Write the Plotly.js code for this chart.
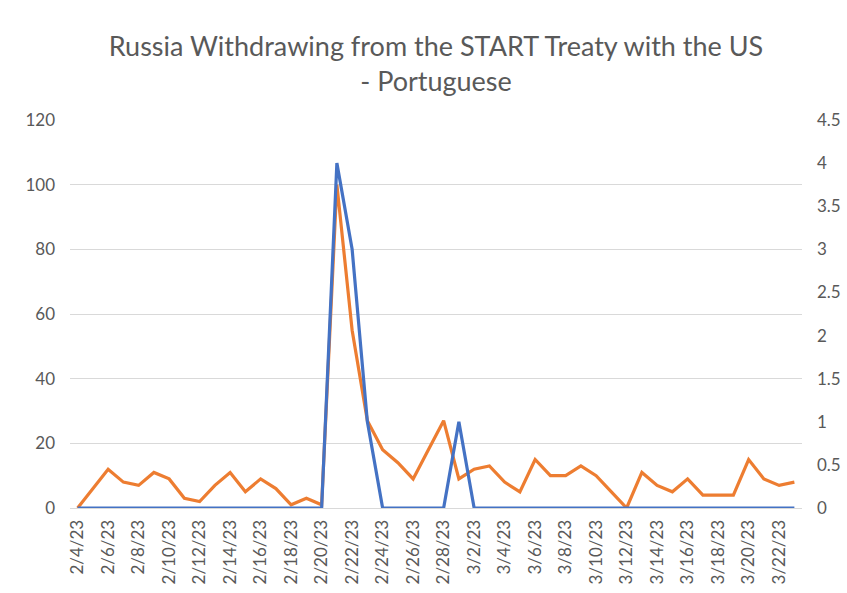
<!DOCTYPE html>
<html>
<head>
<meta charset="utf-8">
<script src="https://cdn.plot.ly/plotly-3.0.1.min.js"></script>
<style>html,body{margin:0;padding:0;background:#fff;}#chart{width:847px;height:593px;}</style>
</head>
<body>
<div id="chart"></div>
<script>
const dates = ["2/4/23","2/5/23","2/6/23","2/7/23","2/8/23","2/9/23","2/10/23","2/11/23","2/12/23","2/13/23",
  "2/14/23","2/15/23","2/16/23","2/17/23","2/18/23","2/19/23","2/20/23","2/21/23","2/22/23","2/23/23",
  "2/24/23","2/25/23","2/26/23","2/27/23","2/28/23","3/1/23","3/2/23","3/3/23","3/4/23","3/5/23",
  "3/6/23","3/7/23","3/8/23","3/9/23","3/10/23","3/11/23","3/12/23","3/13/23","3/14/23","3/15/23",
  "3/16/23","3/17/23","3/18/23","3/19/23","3/20/23","3/21/23","3/22/23","3/23/23"];
const orangeLeft = [0,6,12,8,7,11,9,3,2,7,
  11,5,9,6,1,3,1,100,55,27,
  18,14,9,18,27,9,12,13,8,5,
  15,10,10,13,10,5,0,11,7,5,
  9,4,4,4,15,9,7,8];
const blueRight = [0,0,0,0,0,0,0,0,0,0,
  0,0,0,0,0,0,0,4,3,1,
  0,0,0,0,0,1,0,0,0,0,
  0,0,0,0,0,0,0,0,0,0,
  0,0,0,0,0,0,0,0];
const tickDates = dates.filter((d, i) => i % 2 === 0);

const traces = [
  {x: dates, y: orangeLeft, type: 'scatter', mode: 'lines', yaxis: 'y',
   line: {color: '#ED7D31', width: 3.2}, name: 'Orange', hoverinfo: 'x+y'},
  {x: dates, y: blueRight, type: 'scatter', mode: 'lines', yaxis: 'y2',
   line: {color: '#4472C4', width: 3.2}, name: 'Blue', hoverinfo: 'x+y'}
];

const tickFont = {family: 'Lato, "Open Sans", sans-serif', size: 17, color: '#595959'};
const layout = {
  width: 847, height: 593,
  margin: {l: 70, r: 45, t: 120, b: 85},
  paper_bgcolor: '#ffffff', plot_bgcolor: '#ffffff',
  showlegend: false,
  title: {text: 'Russia Withdrawing from the START Treaty with the US<br>- Portuguese',
    font: {family: 'Lato, "Open Sans", sans-serif', size: 27, color: '#595959'},
    x: 0.5, xanchor: 'center', xref: 'paper', yref: 'container', y: 0.905, yanchor: 'middle'},
  xaxis: {type: 'category', range: [-0.5, dates.length - 0.5],
    tickmode: 'array', tickvals: tickDates, ticktext: tickDates,
    tickangle: -90, tickfont: tickFont, showgrid: false,
    showline: true, linecolor: '#D9D9D9', linewidth: 1, ticks: '', zeroline: false, ticklabelstandoff: 4},
  yaxis: {range: [0, 120], dtick: 20, tickfont: tickFont, showgrid: true,
    gridcolor: '#D9D9D9', gridwidth: 1, zeroline: false, showline: false, ticks: '',
    ticklabelstandoff: 14},
  yaxis2: {range: [0, 4.5], dtick: 0.5, overlaying: 'y', side: 'right', tickfont: tickFont,
    showgrid: false, zeroline: false, showline: false, ticks: '', ticklabelstandoff: 14}
};

Plotly.newPlot('chart', traces, layout, {displayModeBar: false, staticPlot: true});
</script>
</body>
</html>
